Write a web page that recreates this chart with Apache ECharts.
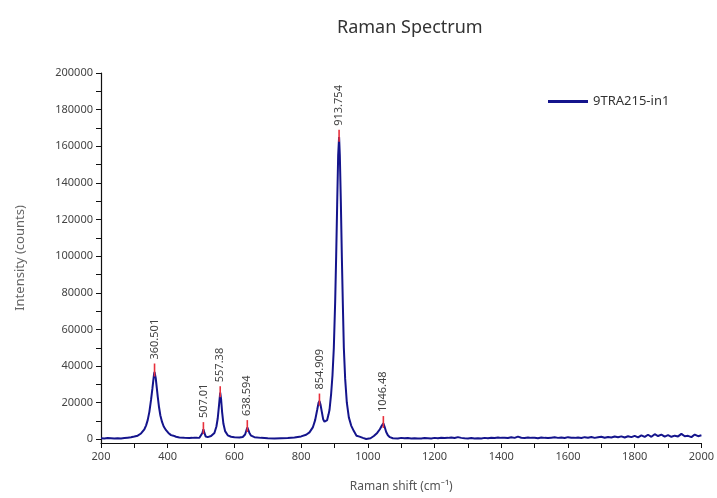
<!DOCTYPE html>
<html lang="en">

<head>
    <meta charset="UTF-8">
    <script src="https://cdn.jsdelivr.net/npm/echarts@6/dist/echarts.min.js"></script>
    <title>Raman Spectrum</title>
    <style>
        body { margin: 0; background: #fff; }
        #myChart { width: 717px; height: 498px; }
    </style>
</head>

<body>
    <div id="myChart"></div>
    <script>
        // spectrum
        var shifts = [
            200, 210, 220, 230, 240, 250, 260, 270, 280, 290, 300, 310, 315, 320, 325, 330, 335, 340, 345, 350,
            354, 357, 359, 360.5, 362, 364, 367, 370, 374, 378, 383, 388, 395, 402, 410, 414, 417, 425, 435, 450,
            465, 470, 474, 480, 485, 489, 495, 500, 504, 507, 510, 514, 520, 530, 540, 546, 550, 554, 557.4, 560,
            563, 567, 572, 580, 590, 600, 615, 625, 632, 636, 638.6, 641, 645, 650, 660, 680, 700, 720, 740, 760,
            780, 800, 815, 825, 835, 842, 848, 852, 855, 858, 862, 866, 870, 874, 878, 882, 885, 890, 894, 898,
            902, 905, 908, 911, 913.8, 916, 919, 922, 925, 928, 932, 937, 943, 950, 958, 966, 975, 985, 995, 1000,
            1008, 1018, 1028, 1036, 1042, 1046.5, 1050, 1055, 1060, 1066, 1075,
            1080, 1090, 1100, 1110, 1120, 1130, 1140, 1150, 1160, 1170, 1180, 1190, 1200, 1210, 1220, 1230, 1240,
            1250, 1260, 1270, 1280, 1290, 1300, 1310, 1320, 1330, 1340, 1350, 1360, 1370, 1380, 1390, 1400, 1410,
            1420, 1430, 1440, 1450, 1460, 1470, 1480, 1490, 1500, 1510, 1520, 1530, 1540, 1550, 1560, 1570, 1580,
            1590, 1600, 1610, 1620, 1630, 1640, 1650, 1660, 1670, 1680, 1690, 1700, 1710, 1720, 1730, 1740, 1750,
            1760, 1770, 1780, 1790, 1800, 1810, 1820, 1830, 1840, 1850, 1860, 1865, 1870, 1880, 1890, 1900, 1910,
            1920, 1930, 1940, 1950, 1960, 1970, 1980, 1990, 2000
        ];
        var intensities = [
            600, 500, 700, 550, 400, 600, 500, 700, 900, 1100, 1500, 2000, 2500, 3200, 4200, 5500, 7500, 10500, 15000, 21500,
            27500, 32500, 35500, 36800, 36000, 33500, 28500, 23500, 17500, 13000, 9500, 7000, 5000, 3500, 2300, 2600, 2000, 1400, 1000, 800,
            700, 1500, 800, 900, 1600, 800, 900, 1500, 3500, 5500, 3500, 1500, 1200, 1800, 3500, 7000, 11500, 19000, 25500, 22000,
            15000, 8500, 4500, 2200, 1400, 1100, 1000, 1300, 2600, 5000, 6500, 5500, 3500, 2000, 1200, 800, 600, 500, 600, 700,
            1000, 1600, 2500, 3800, 6500, 10500, 16000, 19800, 20900, 19000, 15000, 11000, 9600, 9400, 10500, 13500, 16000, 25000, 35000, 50000,
            75000, 100000, 128000, 155000, 165000, 155000, 130000, 100000, 74000, 50000, 33000, 20000, 12000, 7500, 4500, 2000, 1500, 800, 200, 100,
            600, 1800, 3500, 5500, 7500, 8700, 7000, 4000, 2200, 1200, 600,
            700, 500, 800, 600, 700, 500, 600, 400, 500, 700, 600, 500, 800, 600, 900, 700, 800,
            1000, 700, 1200, 800, 600, 500, 700, 400, 600, 500, 800, 600, 900, 700, 1000, 800, 900,
            700, 1100, 800, 1500, 900, 700, 1000, 800, 900, 600, 1000, 800, 700, 900, 1100, 800, 1000,
            700, 1200, 900, 800, 1000, 700, 1200, 900, 1300, 800, 1100, 1400, 900, 1300, 1000, 1500, 1100,
            1600, 1000, 1700, 1200, 1900, 1100, 2200, 1300, 2500, 1400, 2800, 3500, 1800, 2600, 1500, 2300, 1400,
            2000, 1600, 3000, 1700, 1900, 1200, 2600, 1700, 2200
        ];

        // picked peaks: blue top, top of the red marker, label
        var peakShifts = [360.501, 507.01, 557.38, 638.594, 854.909, 913.754, 1046.48];
        var peakHeights = [36800, 5500, 25500, 6500, 20900, 165000, 8700];
        var markerTops = [41400, 9400, 29000, 10500, 25000, 169000, 12700];
        var peakLabels = ['360.501', '507.01', '557.38', '638.594', '854.909', '913.754', '1046.48'];

        var yLabels = [0, 20000, 40000, 60000, 80000, 100000, 120000, 140000, 160000, 180000, 200000];
        var yTicks = [0, 10000, 20000, 30000, 40000, 50000, 60000, 70000, 80000, 90000, 100000,
            110000, 120000, 130000, 140000, 150000, 160000, 170000, 180000, 190000, 200000];

        var seriesName = '9TRA215-in1';
        var fontName = 'Noto Sans';
        var lineColor = '#14148c';

        var lineData = shifts.map(function (x, i) { return [x, intensities[i]]; });
        var peakData = peakShifts.map(function (x, i) { return [x, peakHeights[i] - 2500, markerTops[i]]; });

        var dom = document.getElementById('myChart');
        var myChart = echarts.init(dom);

        var option = {
            animation: false,
            title: {
                text: 'Raman Spectrum',
                left: 332,
                top: 14,
                textStyle: { fontFamily: fontName, fontSize: 18, fontWeight: 'normal', color: '#333' }
            },
            legend: {
                data: [seriesName],
                left: 543,
                top: 90,
                icon: 'rect',
                itemWidth: 40,
                itemHeight: 3,
                itemGap: 6,
                textStyle: { fontFamily: fontName, fontSize: 13, color: '#333' }
            },
            grid: {
                left: 101,
                right: 15,
                top: 73,
                bottom: 54,
                containLabel: false
            },
            xAxis: {
                type: 'value',
                min: 200,
                max: 2000,
                interval: 200,
                name: 'Raman shift (cm⁻¹)',
                nameLocation: 'middle',
                nameGap: 38,
                nameTextStyle: { fontFamily: fontName, fontSize: 12, color: '#555' },
                axisLine: { show: true, onZero: false, lineStyle: { color: '#111', width: 1.2 } },
                axisTick: { show: true, inside: false, length: 5, lineStyle: { color: '#111' } },
                minorTick: { show: true, splitNumber: 2, length: 5, lineStyle: { color: '#111' } },
                axisLabel: {
                    fontFamily: fontName, fontSize: 11, color: '#444', margin: 8,
                    formatter: function (v) { return String(v); }
                },
                splitLine: { show: false }
            },
            yAxis: {
                type: 'value',
                min: -2000,
                max: 200000,
                name: 'Intensity (counts)',
                nameLocation: 'middle',
                nameGap: 74,
                nameTextStyle: { fontFamily: fontName, fontSize: 13, color: '#666' },
                axisLine: { show: true, lineStyle: { color: '#111', width: 1.2 } },
                axisTick: { show: true, inside: false, length: 5, customValues: yTicks, lineStyle: { color: '#111' } },
                axisLabel: {
                    fontFamily: fontName, fontSize: 11, color: '#444', margin: 8, customValues: yLabels,
                    formatter: function (v) { return String(v); }
                },
                splitLine: { show: false }
            },
            series: [{
                name: seriesName,
                type: 'line',
                data: lineData,
                symbol: 'none',
                showSymbol: false,
                lineStyle: { color: lineColor, width: 2 },
                itemStyle: { color: lineColor },
                z: 2
            }, {
                name: 'peaks',
                type: 'custom',
                data: peakData,
                encode: { x: 0, y: [1, 2] },
                clip: false,
                z: 3,
                renderItem: function (params, api) {
                    var base = api.coord([api.value(0), api.value(1)]);
                    var top = api.coord([api.value(0), api.value(2)]);
                    return {
                        type: 'group',
                        children: [{
                            type: 'line',
                            shape: { x1: base[0], y1: base[1], x2: top[0], y2: top[1] },
                            style: { stroke: '#e8303c', lineWidth: 1.6 }
                        }, {
                            type: 'text',
                            x: top[0],
                            y: top[1] - 4,
                            rotation: Math.PI / 2,
                            style: {
                                text: peakLabels[params.dataIndex],
                                fill: '#444',
                                font: '11px "' + fontName + '"',
                                align: 'left',
                                verticalAlign: 'middle'
                            }
                        }]
                    };
                }
            }]
        };
        myChart.setOption(option);
    </script>
</body>

</html>
